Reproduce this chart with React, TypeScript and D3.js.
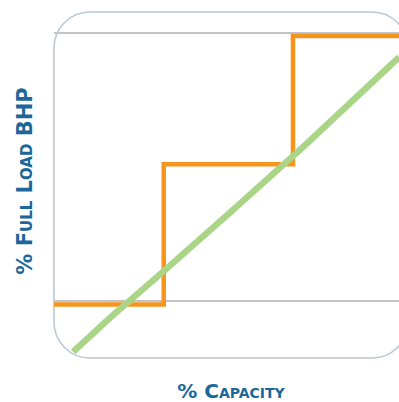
import React, { useRef, useEffect } from "react";
import * as d3 from "d3";

// % capacity / % full load BHP
const refLevels = [0, 100];
const stepCapacity = [0, 31, 67.5, 100];
const stepBhp = [-1.3, 51, 98.9];
const curveCapacity = [5.4, 15.8, 31.4, 49.7, 70.1, 97.5];
const curveBhp = [-19, -6.3, 11.6, 33, 57.1, 91];
const xTitle = "% Capacity";
const yTitle = "% Full Load BHP";

const App = () => {
  const svgRef = useRef<SVGSVGElement>(null);

  useEffect(() => {
    const w = 399;
    const h = 402;
    const svg = d3.select(svgRef.current).attr("width", w).attr("height", h);
    svg.selectAll("*").remove();

    const frame = { left: 54, top: 12, right: 408, bottom: 358 };

    const xScale = d3.scaleLinear().domain([0, 100]).range([frame.left, frame.right]);
    const yScale = d3.scaleLinear().domain([0, 100]).range([301, 33]);

    // rounded frame
    svg
      .append("rect")
      .attr("x", frame.left)
      .attr("y", frame.top)
      .attr("width", frame.right - frame.left)
      .attr("height", frame.bottom - frame.top)
      .attr("rx", 36)
      .attr("fill", "none")
      .attr("stroke", "#b8c8d4")
      .attr("stroke-width", 1.6);

    // reference lines
    svg
      .append("g")
      .selectAll("line")
      .data(refLevels)
      .join("line")
      .attr("x1", frame.left)
      .attr("x2", w)
      .attr("y1", (d) => yScale(d))
      .attr("y2", (d) => yScale(d))
      .attr("stroke", "#c3c3ca")
      .attr("stroke-width", 2);

    // step line
    const stepData: [number, number][] = [];
    stepBhp.forEach((v, i) => {
      stepData.push([stepCapacity[i], v]);
      stepData.push([stepCapacity[i + 1], v]);
    });
    const line = d3
      .line<[number, number]>()
      .x((d) => xScale(d[0]))
      .y((d) => yScale(d[1]));

    svg
      .append("path")
      .datum(stepData)
      .attr("d", line)
      .attr("fill", "none")
      .attr("stroke", "#f7941d")
      .attr("stroke-width", 4.5)
      .attr("stroke-linejoin", "miter");

    // curve
    const curveData: [number, number][] = curveCapacity.map((c, i) => [c, curveBhp[i]]);
    svg
      .append("path")
      .datum(curveData)
      .attr("d", line)
      .attr("fill", "none")
      .attr("stroke", "#aad587")
      .attr("stroke-width", 6.5);

    // titles
    svg
      .append("text")
      .attr("x", 231)
      .attr("y", 397.5)
      .attr("text-anchor", "middle")
      .attr("font-family", "'DejaVu Sans', sans-serif")
      .attr("font-weight", "bold")
      .attr("font-size", 20)
      .attr("font-variant", "small-caps")
      .attr("fill", "#1c679a")
      .text(xTitle);

    svg
      .append("text")
      .attr("transform", "translate(32,181) rotate(-90)")
      .attr("text-anchor", "middle")
      .attr("font-family", "'DejaVu Sans', sans-serif")
      .attr("font-weight", "bold")
      .attr("font-size", 21)
      .attr("font-variant", "small-caps")
      .attr("fill", "#1c679a")
      .text(yTitle);
  }, []);

  return (
    <div style={{ position: "absolute", left: 0, top: 0 }}>
      <svg ref={svgRef} style={{ display: "block" }}></svg>
    </div>
  );
};

export default App;
